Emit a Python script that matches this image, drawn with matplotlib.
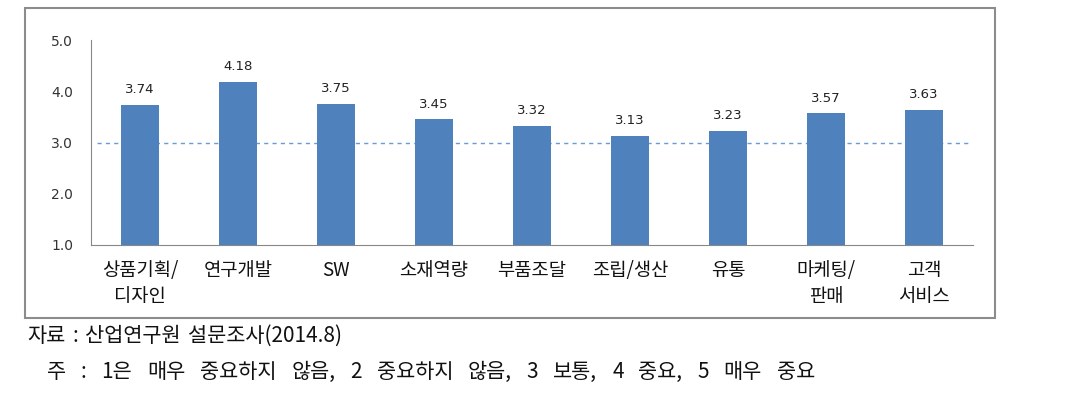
import matplotlib
matplotlib.use("Agg")
import matplotlib.pyplot as plt
from matplotlib.patches import Rectangle

plt.rcParams['font.family'] = ['Noto Sans CJK KR', 'DejaVu Sans']

categories = ["상품기획/\n디자인", "연구개발", "SW", "소재역량", "부품조달", "조립/생산", "유통", "마케팅/\n판매", "고객\n서비스"]
values = [3.74, 4.18, 3.75, 3.45, 3.32, 3.13, 3.23, 3.57, 3.63]
yticks = [1.0, 2.0, 3.0, 4.0, 5.0]
reference_level = 3.0
source_text = "자료 : 산업연구원 설문조사(2014.8)"
note_text = "주 : 1은 매우 중요하지 않음, 2 중요하지 않음, 3 보통, 4 중요, 5 매우 중요"

W, H = 1076, 412
fig = plt.figure(figsize=(W/100, H/100), dpi=100)

# outer chart box
fig.patches.append(Rectangle((25/W, 1-318/H), (995-25)/W, (318-8)/H, transform=fig.transFigure,
                             fill=False, edgecolor='#8c8c8c', linewidth=1.5))

ax = fig.add_axes([91/W, 1-245/H, (973-91)/W, (245-40)/H])
x = list(range(len(categories)))
ax.bar(x, values, width=0.39, bottom=0, color='#4F81BD', zorder=2)
ax.set_ylim(1.0, 5.0)
ax.set_xlim(-0.5, len(categories)-0.5)
ax.axhline(reference_level, xmin=0.007, xmax=0.995, color='#6A9BD8', linestyle=(0, (3, 3)), linewidth=1.0, zorder=1)

for xi, v in zip(x, values):
    ax.text(xi, v + 0.17, f"{v:.2f}", ha='center', va='bottom', fontsize=9.5, color='#222222',
            family=['DejaVu Sans'])

ax.set_yticks(yticks)
ax.set_yticklabels([f"{t:.1f}" for t in yticks], fontsize=10, color='#333333', family=['DejaVu Sans'])
ax.set_xticks(x)
ax.set_xticklabels(categories, fontsize=13.5, color='#111111', linespacing=1.3)
ax.tick_params(axis='both', length=0)
ax.tick_params(axis='y', pad=13)
ax.tick_params(axis='x', pad=11)
for s in ['top', 'right']:
    ax.spines[s].set_visible(False)
ax.spines['left'].set_color('#888888')
ax.spines['bottom'].set_color('#888888')

# footer lines, words spread to the reference's wide word spacing
renderer = fig.canvas.get_renderer()

def justified(text, x0, x1, y, size):
    words = text.split(' ')
    objs = [fig.text(0, 1 - y/H, w, fontsize=size, color='#111111', va='center', ha='left') for w in words]
    widths = [o.get_window_extent(renderer).width for o in objs]
    gap = (x1 - x0 - sum(widths)) / max(len(words) - 1, 1)
    cur = x0
    for o, wdt in zip(objs, widths):
        o.set_x(cur / W)
        cur += wdt + gap

justified(source_text, 27, 342, 336, 15)
justified(note_text, 47, 815, 372, 15)

fig.savefig("out.png", dpi=100)
